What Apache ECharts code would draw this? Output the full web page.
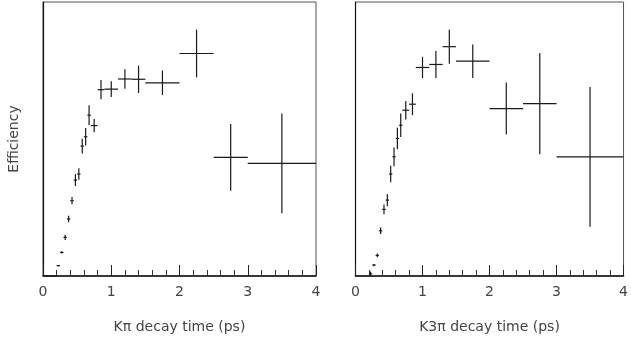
<!DOCTYPE html>
<html>
<head>
<meta charset="utf-8">
<script src="https://cdn.jsdelivr.net/npm/echarts@6/dist/echarts.min.js"></script>
<style>
  html, body { margin: 0; padding: 0; background: #fff; }
  #chart { width: 631px; height: 347px; }
</style>
</head>
<body>
<div id="chart"></div>
<script>
// K pi panel
const kpiT    = [0.1, 0.225, 0.275, 0.325, 0.375, 0.425, 0.475, 0.525, 0.575, 0.625, 0.675, 0.75, 0.85, 1.0, 1.2, 1.4, 1.75, 2.25, 2.75, 3.5]
const kpiTErr = [0.1, 0.025, 0.025, 0.025, 0.025, 0.025, 0.025, 0.025, 0.025, 0.025, 0.025, 0.05, 0.05, 0.1, 0.1, 0.1, 0.25, 0.25, 0.25, 0.5]
const kpiEff  = [0, 0.038, 0.086, 0.141, 0.208, 0.275, 0.350, 0.372, 0.474, 0.508, 0.587, 0.549, 0.680, 0.682, 0.719, 0.718, 0.705, 0.812, 0.433, 0.411]
const kpiErr  = [0, 0.002, 0.004, 0.010, 0.012, 0.013, 0.022, 0.021, 0.027, 0.032, 0.036, 0.024, 0.035, 0.029, 0.036, 0.050, 0.045, 0.087, 0.122, 0.182]

// K 3pi panel
const k3piT    = [0.225, 0.275, 0.325, 0.375, 0.425, 0.475, 0.525, 0.575, 0.625, 0.675, 0.75, 0.85, 1.0, 1.2, 1.4, 1.75, 2.25, 2.75, 3.5]
const k3piTErr = [0.025, 0.025, 0.025, 0.025, 0.025, 0.025, 0.025, 0.025, 0.025, 0.025, 0.05, 0.05, 0.1, 0.1, 0.1, 0.25, 0.25, 0.25, 0.5]
const k3piEff  = [0.008, 0.040, 0.075, 0.165, 0.243, 0.277, 0.372, 0.435, 0.502, 0.550, 0.605, 0.627, 0.761, 0.772, 0.837, 0.784, 0.611, 0.629, 0.435]
const k3piErr  = [0.008, 0.004, 0.007, 0.012, 0.018, 0.022, 0.030, 0.034, 0.039, 0.043, 0.034, 0.040, 0.039, 0.049, 0.062, 0.061, 0.095, 0.185, 0.255]

const xTicks = [0, 1, 2, 3, 4]
const xTitles = ['K\u03c0 decay time (ps)', 'K3\u03c0 decay time (ps)']
const yTitle = 'Efficiency'

const toItems = (t, te, e, ee) => t.map((v, i) => [v, e[i], v - te[i], v + te[i], e[i] - ee[i], e[i] + ee[i]])

const renderCross = (params, api) => {
  const x = api.value(0), y = api.value(1)
  const l = api.coord([api.value(2), y])
  const r = api.coord([api.value(3), y])
  const b = api.coord([x, api.value(4)])
  const t = api.coord([x, api.value(5)])
  const style = { stroke: '#1a1a1a', lineWidth: 1.2 }
  return {
    type: 'group',
    children: [
      { type: 'line', shape: { x1: l[0], y1: l[1], x2: r[0], y2: r[1] }, style },
      { type: 'line', shape: { x1: b[0], y1: b[1], x2: t[0], y2: t[1] }, style }
    ]
  }
}

const font = 'DejaVu Sans'
const xAxisFor = (i) => ({
  type: 'value', gridIndex: i, min: xTicks[0], max: xTicks[xTicks.length - 1], interval: 1,
  name: xTitles[i], nameLocation: 'middle', nameGap: 44,
  nameTextStyle: { color: '#444', fontSize: 14, fontFamily: font },
  axisLine: { onZero: false, lineStyle: { color: '#111', width: 1.5 } },
  axisTick: { inside: true, length: 11, lineStyle: { color: '#222' } },
  minorTick: { show: true, splitNumber: 5, length: 6, lineStyle: { color: '#333' } },
  axisLabel: { color: '#444', fontSize: 14, fontFamily: font, margin: 9 },
  splitLine: { show: false }
})
const yAxisFor = (i) => ({
  type: 'value', gridIndex: i, min: 0, max: 1,
  name: i === 0 ? yTitle : '', nameLocation: 'middle', nameGap: 22, nameRotate: 90,
  nameTextStyle: { color: '#444', fontSize: 14, fontFamily: font },
  axisLine: { show: true, lineStyle: { color: '#111', width: 1.2 } },
  axisTick: { show: false }, axisLabel: { show: false }, splitLine: { show: false }
})

const chart = echarts.init(document.getElementById('chart'), null, { renderer: 'canvas' })
chart.setOption({
  animation: false,
  backgroundColor: '#fff',
  grid: [
    { left: 43, top: 2, width: 273, height: 274, show: true, borderColor: '#555', borderWidth: 1 },
    { left: 355.5, top: 2, width: 273, height: 274, show: true, borderColor: '#555', borderWidth: 1 }
  ],
  xAxis: [xAxisFor(0), xAxisFor(1)],
  yAxis: [yAxisFor(0), yAxisFor(1)],
  series: [
    { type: 'custom', xAxisIndex: 0, yAxisIndex: 0, renderItem: renderCross, data: toItems(kpiT, kpiTErr, kpiEff, kpiErr) },
    { type: 'custom', xAxisIndex: 1, yAxisIndex: 1, renderItem: renderCross, data: toItems(k3piT, k3piTErr, k3piEff, k3piErr) }
  ]
})
</script>
</body>
</html>
